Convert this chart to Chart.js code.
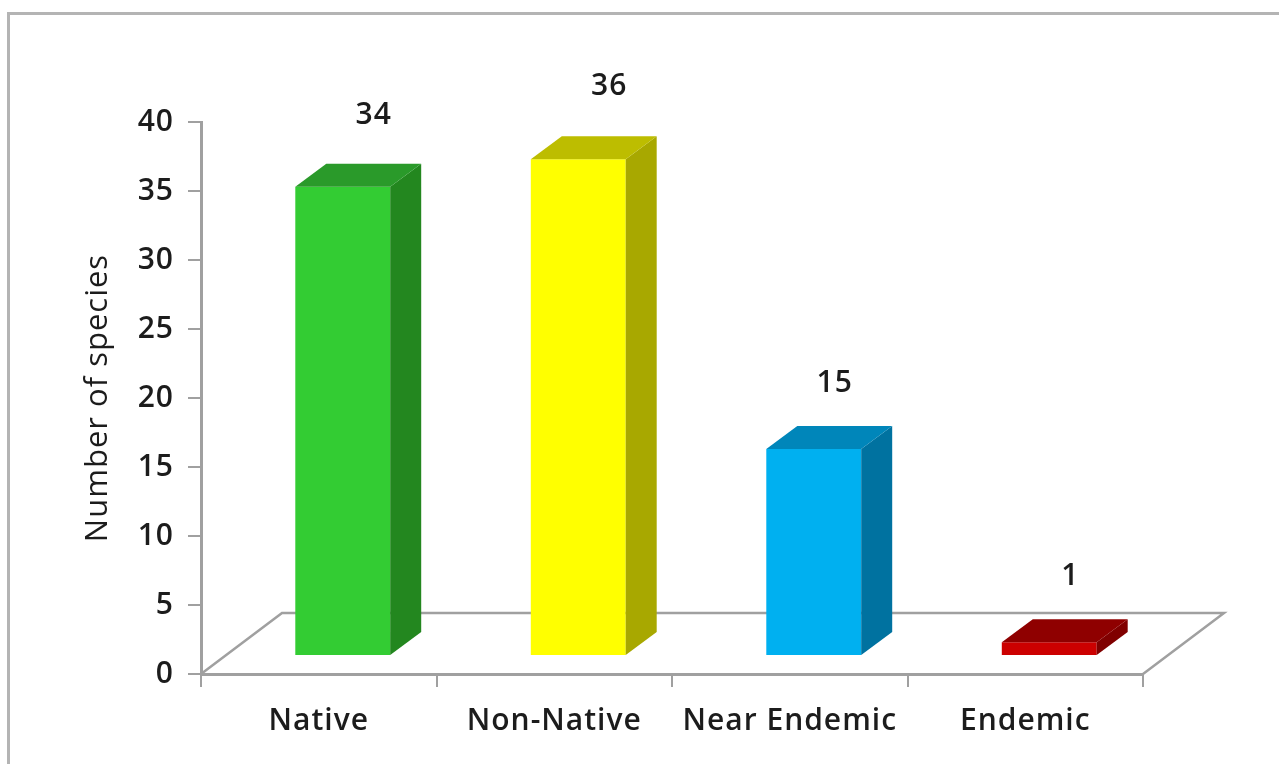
<!DOCTYPE html>
<html>
<head>
<meta charset="utf-8">
<title>Number of species</title>
<script src="https://cdn.jsdelivr.net/npm/chart.js@4/dist/chart.umd.min.js"></script>
<style>
    html, body { margin: 0; padding: 0; background: #fff; overflow: hidden; }
    #wrap { position: relative; width: 1279px; height: 764px; }
    #frame {
        position: absolute; left: 7px; top: 12px; right: 0; bottom: 0;
        border-left: 3px solid #b4b4b4; border-top: 3px solid #b4b4b4;
    }
    canvas { position: absolute; left: 0; top: 0; }
</style>
</head>
<body>
<div id="wrap">
    <div id="frame"></div>
    <canvas id="speciesChart" width="1279" height="764"></canvas>
</div>
<script>
const categories = ['Native', 'Non-Native', 'Near Endemic', 'Endemic'];
const speciesCounts = [34, 36, 15, 1];
const yTicks = [0, 5, 10, 15, 20, 25, 30, 35, 40];

const frontColors = ['#33cc33', '#ffff00', '#00b0f0', '#cc0000'];
const sideColors = ['#23871f', '#a8a800', '#0072a0', '#800000'];
const topColors = ['#2a9a2a', '#bdbd00', '#0086ba', '#8f0000'];

// Fake 3D settings, in pixels
const barShift = { x: 24, y: -18 };
const barDepth = { x: 31, y: -23 };
const floorDepth = { x: 81, y: -61 };
const labelOffset = [{ x: 31, y: -71 }, { x: 31, y: -73 }, { x: 21, y: -66 }, { x: 21, y: -66 }];

const axisColor = '#a0a0a0';
const textColor = '#1c1c1c';
const fontFamily = '"Open Sans", sans-serif';

function poly(ctx, points, fill) {
    ctx.beginPath();
    points.forEach(function(p, i) {
        if (i === 0) ctx.moveTo(p[0], p[1]);
        else ctx.lineTo(p[0], p[1]);
    });
    ctx.closePath();
    ctx.fillStyle = fill;
    ctx.fill();
}

const letterSpacingPlugin = {
    id: 'letterSpacing',
    beforeDraw: function(chart) {
        chart.ctx.letterSpacing = '1px';
    }
};

// Floor of the 3D box, behind the bars
const floorPlugin = {
    id: 'floor',
    beforeDatasetsDraw: function(chart) {
        const ctx = chart.ctx;
        const a = chart.chartArea;
        ctx.save();
        ctx.strokeStyle = axisColor;
        ctx.lineWidth = 2.5;
        ctx.lineJoin = 'miter';
        ctx.beginPath();
        ctx.moveTo(a.left, a.bottom);
        ctx.lineTo(a.left + floorDepth.x, a.bottom + floorDepth.y);
        ctx.lineTo(a.right + floorDepth.x, a.bottom + floorDepth.y);
        ctx.lineTo(a.right, a.bottom);
        ctx.stroke();
        ctx.restore();
    }
};

// Moves the front faces off the axis so they stand on the floor
const shiftPlugin = {
    id: 'shiftBars',
    beforeDatasetDraw: function(chart) {
        chart.ctx.save();
        chart.ctx.translate(barShift.x, barShift.y);
    },
    afterDatasetDraw: function(chart) {
        chart.ctx.restore();
    }
};

// Top and side faces plus the value labels
const facesPlugin = {
    id: 'faces',
    afterDatasetsDraw: function(chart) {
        const ctx = chart.ctx;
        chart.getDatasetMeta(0).data.forEach(function(bar, i) {
            const left = bar.x - bar.width / 2 + barShift.x;
            const right = bar.x + bar.width / 2 + barShift.x;
            const top = bar.y + barShift.y;
            const bottom = bar.base + barShift.y;
            poly(ctx, [
                [right, top], [right + barDepth.x, top + barDepth.y],
                [right + barDepth.x, bottom + barDepth.y], [right, bottom]
            ], sideColors[i]);
            poly(ctx, [
                [left, top], [left + barDepth.x, top + barDepth.y],
                [right + barDepth.x, top + barDepth.y], [right, top]
            ], topColors[i]);

            ctx.save();
            ctx.font = '600 30px ' + fontFamily;
            ctx.fillStyle = textColor;
            ctx.textAlign = 'center';
            ctx.textBaseline = 'middle';
            ctx.fillText(String(speciesCounts[i]), bar.x + barShift.x + labelOffset[i].x, top + labelOffset[i].y);
            ctx.restore();
        });
    }
};

document.addEventListener('DOMContentLoaded', function() {
    const ctx = document.getElementById('speciesChart');
    new Chart(ctx.getContext('2d'), {
        type: 'bar',
        data: {
            labels: categories,
            datasets: [{
                data: speciesCounts,
                backgroundColor: frontColors,
                borderWidth: 0,
                barPercentage: 0.403,
                categoryPercentage: 1,
                clip: false
            }]
        },
        options: {
            responsive: false,
            animation: false,
            layout: { padding: { top: 122, right: 136, left: 0, bottom: 0 } },
            plugins: {
                legend: { display: false },
                tooltip: { enabled: false }
            },
            scales: {
                x: {
                    afterFit: function(scale) { scale.height = 90; },
                    border: { color: axisColor, width: 3 },
                    grid: { drawOnChartArea: false, color: axisColor, lineWidth: 2, tickLength: 13 },
                    ticks: {
                        autoSkip: false,
                        maxRotation: 0,
                        padding: 16,
                        color: textColor,
                        font: { family: fontFamily, size: 30, weight: '600' }
                    }
                },
                y: {
                    min: 0,
                    max: 40,
                    afterFit: function(scale) { scale.width = 201; },
                    afterBuildTicks: function(scale) {
                        scale.ticks = yTicks.map(function(v) { return { value: v }; });
                    },
                    border: { color: axisColor, width: 3 },
                    grid: { drawOnChartArea: false, color: axisColor, lineWidth: 2, tickLength: 13 },
                    ticks: {
                        padding: 14,
                        color: textColor,
                        font: { family: fontFamily, size: 30, weight: '600' }
                    },
                    title: {
                        display: true,
                        text: 'Number of species',
                        color: textColor,
                        padding: { top: 80, bottom: 0 },
                        font: { family: fontFamily, size: 31, weight: '500' }
                    }
                }
            }
        },
        plugins: [letterSpacingPlugin, floorPlugin, shiftPlugin, facesPlugin]
    });
});
</script>
</body>
</html>
